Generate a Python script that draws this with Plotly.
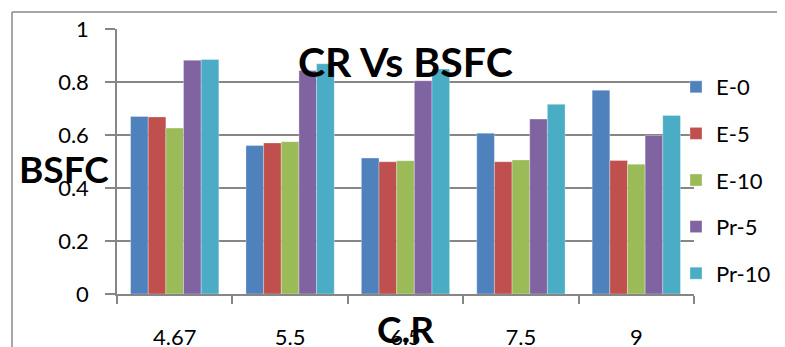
import plotly.graph_objects as go

categories = ["4.67", "5.5", "6.5", "7.5", "9"]
series_names = ["E-0", "E-5", "E-10", "Pr-5", "Pr-10"]
e0 = [0.670, 0.560, 0.513, 0.607, 0.769]
e5 = [0.668, 0.570, 0.499, 0.499, 0.504]
e10 = [0.626, 0.575, 0.503, 0.506, 0.490]
pr5 = [0.882, 0.843, 0.805, 0.660, 0.598]
pr10 = [0.885, 0.869, 0.849, 0.716, 0.674]
colors = ["#4F81BD", "#C0504D", "#9BBB59", "#8064A2", "#4BACC6"]
y_ticks = [0, 0.2, 0.4, 0.6, 0.8, 1]
y_tick_labels = ["0", "0.2", "0.4", "0.6", "0.8", "1"]

FONT = "Lato"
OFF = 8  # default page body margin
W, H = 785 - OFF, 347 - OFF
L, T = 117 - OFF, 29 - OFF
R = W - (694 - OFF)
B = H - (294 - OFF)
pw, ph = W - L - R, H - T - B

def px(xpage):
    return (xpage - OFF - L) / pw

def py(ypage):
    return (H - B - (ypage - OFF)) / ph

fig = go.Figure()
for name, vals, c in zip(series_names, [e0, e5, e10, pr5, pr10], colors):
    fig.add_trace(go.Bar(
        x=categories, y=vals, name=name, legendgroup=name,
        marker=dict(color=c, line=dict(color="rgba(255,255,255,0.6)", width=0.5)),
    ))

fig.update_layout(
    width=W, height=H,
    margin=dict(l=L, r=R, t=T, b=B, autoexpand=False),
    paper_bgcolor="white", plot_bgcolor="white",
    barmode="group", bargap=0.235, bargroupgap=0,
    font=dict(family=FONT, color="black", size=22),
    showlegend=True,
    legend=dict(
        x=px(676), xanchor="left", y=py(66), yanchor="top",
        font=dict(family=FONT, size=22, color="black"),
        bgcolor="rgba(255,255,255,0)", borderwidth=0,
        tracegroupgap=15, traceorder="grouped",
    ),
    xaxis=dict(
        type="category", showgrid=False, showline=True, linecolor="#868686", linewidth=1.5,
        ticks="outside", tickson="boundaries", ticklen=8, tickcolor="#868686", tickwidth=1.5,
        tickfont=dict(family=FONT, size=22, color="black"), ticklabelstandoff=23,
        fixedrange=True,
    ),
    yaxis=dict(
        range=[0, 1], tickvals=y_ticks, ticktext=y_tick_labels,
        showgrid=True, gridcolor="#868686", gridwidth=1.5,
        showline=True, linecolor="#868686", linewidth=1.5,
        ticks="outside", ticklen=10, tickcolor="#868686", tickwidth=1.5,
        tickfont=dict(family=FONT, size=22, color="black"), ticklabelstandoff=12,
        zeroline=False, fixedrange=True,
    ),
    annotations=[
        dict(text="<b>CR Vs BSFC</b>", xref="paper", yref="paper", x=px(405), y=py(62),
             xanchor="center", yanchor="middle", showarrow=False,
             font=dict(family=FONT, size=41, color="black")),
        dict(text="<b>BSFC</b>", xref="paper", yref="paper", x=px(64), y=py(168),
             xanchor="center", yanchor="middle", showarrow=False,
             font=dict(family=FONT, size=37, color="black")),
        dict(text="<b>C.R</b>", xref="paper", yref="paper", x=px(405), y=py(328),
             xanchor="center", yanchor="middle", showarrow=False,
             font=dict(family=FONT, size=37, color="black")),
    ],
    shapes=[
        dict(type="line", xref="paper", yref="paper", x0=px(12), x1=px(12), y0=py(12), y1=py(360),
             line=dict(color="#8a8a8a", width=1.5)),
        dict(type="line", xref="paper", yref="paper", x0=px(12), x1=px(800), y0=py(12), y1=py(12),
             line=dict(color="#8a8a8a", width=1.5)),
    ],
)

fig.write_html("out.html")
